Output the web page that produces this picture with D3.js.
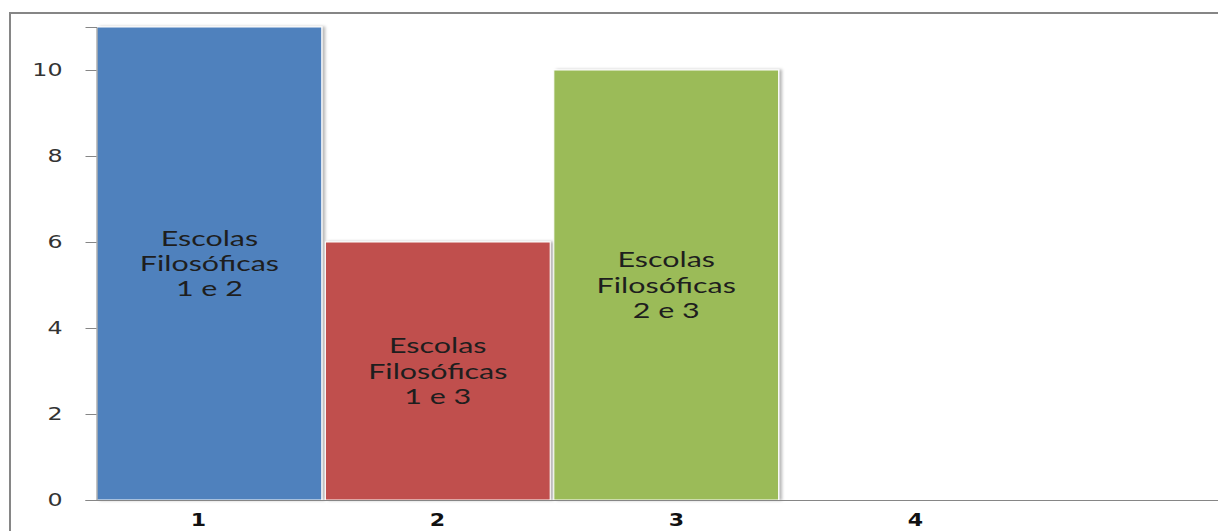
<!DOCTYPE html>
<html>
<head>
<meta charset="utf-8">
<script src="https://cdn.jsdelivr.net/npm/d3@7"></script>
<style>
  html, body { margin: 0; padding: 0; background: #fff; }
  svg { display: block; }
</style>
</head>
<body>
<svg id="chart" width="1218" height="531"></svg>
<script>
// Chart data
const categories = ["1", "2", "3", "4"];
const values = [11, 6, 10, null];
const barLabels = [
  ["Escolas", "Filosóficas", "1 e 2"],
  ["Escolas", "Filosóficas", "1 e 3"],
  ["Escolas", "Filosóficas", "2 e 3"],
  null
];
const barColors = ["#4F81BD", "#C0504D", "#9BBB59", "#8064A2"];
const yTicks = [0, 2, 4, 6, 8, 10];

const svg = d3.select("#chart");
const W = 1218, H = 531;

// Plot geometry
const plotLeft = 97, baseline = 500, plotTop = 27;

const y = d3.scaleLinear().domain([0, 11]).range([baseline, plotTop]);
const x = d3.scaleBand().domain(categories).range([plotLeft, plotLeft + 4 * 227.5]).paddingInner(0.016).paddingOuter(0);
const xLabel = d3.scalePoint().domain(categories).range([198, 915]);

// Soft shadow on bars
const defs = svg.append("defs");
const f = defs.append("filter").attr("id", "shadow").attr("x", "-5%").attr("y", "-5%").attr("width", "115%").attr("height", "115%");
f.append("feDropShadow").attr("dx", 3).attr("dy", 0).attr("stdDeviation", 1.6)
  .attr("flood-color", "#000").attr("flood-opacity", 0.28);

// Outer chart frame
svg.append("rect")
  .attr("x", 10).attr("y", 13)
  .attr("width", W + 20).attr("height", H)
  .attr("fill", "#fff").attr("stroke", "#868686").attr("stroke-width", 2);

// Bars
const data = categories.map((c, i) => ({ c, v: values[i], lbl: barLabels[i], col: barColors[i] }))
  .filter(d => d.v != null);

svg.append("g").selectAll("rect").data(data).join("rect")
  .attr("x", d => x(d.c))
  .attr("y", d => y(d.v))
  .attr("width", x.bandwidth())
  .attr("height", d => y(0) - y(d.v))
  .attr("fill", d => d.col)
  .attr("stroke", "#ffffff")
  .attr("stroke-width", 1)
  .attr("filter", "url(#shadow)");

// Y axis
const yAxis = svg.append("g")
  .attr("transform", `translate(${plotLeft - 0.5},0)`)
  .call(d3.axisLeft(y).tickValues(yTicks).tickSize(11).tickPadding(0).tickFormat(d3.format("d")));
yAxis.select(".domain").attr("stroke", "#868686");
yAxis.selectAll(".tick line").attr("stroke", "#868686");
yAxis.selectAll(".tick text")
  .attr("x", 0)
  .attr("transform", "translate(-34,0) scale(1.32,1)")
  .attr("fill", "#333")
  .style("font-family", "'DejaVu Sans', sans-serif")
  .style("font-size", "18px");

// X axis line along the baseline
svg.append("line")
  .attr("x1", plotLeft - 11).attr("x2", W)
  .attr("y1", baseline + 0.5).attr("y2", baseline + 0.5)
  .attr("stroke", "#868686").attr("stroke-width", 1);

// X category labels
const xAxis = svg.append("g")
  .attr("transform", `translate(0,${baseline})`)
  .call(d3.axisBottom(xLabel).tickSize(0).tickPadding(0));
xAxis.select(".domain").remove();
xAxis.selectAll(".tick text")
  .attr("y", 0)
  .attr("dy", 0)
  .attr("transform", "translate(0,25.5) scale(1.3,1)")
  .attr("fill", "#111")
  .style("font-family", "'DejaVu Sans', sans-serif")
  .style("font-weight", "bold")
  .style("font-size", "17px");

// Labels inside bars
const lab = svg.append("g").selectAll("g").data(data).join("g")
  .attr("transform", d => `translate(${x(d.c) + x.bandwidth() / 2},${y(d.v / 2)})`);
lab.each(function (d) {
  const g = d3.select(this).append("g").attr("transform", "scale(1.45,1)");
  g.selectAll("text").data(d.lbl).join("text")
    .attr("x", 0)
    .attr("y", (t, i) => (i - 1) * 25.5 + 7.5)
    .attr("text-anchor", "middle")
    .attr("fill", "#1e1e1e")
    .style("font-family", "Lato, 'Open Sans', sans-serif")
    .style("font-size", "21px")
    .text(t => t);
});
</script>
</body>
</html>
